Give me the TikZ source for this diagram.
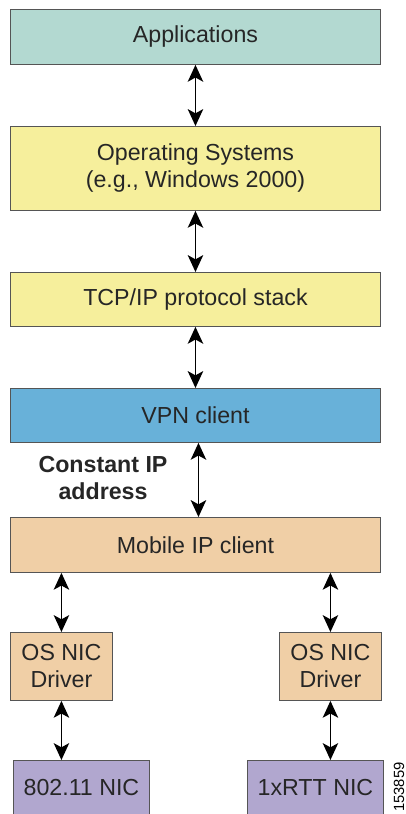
\documentclass[tikz,border=0pt]{standalone}
\usepackage{fontspec}
\setmainfont{Liberation Sans}
\usetikzlibrary{arrows.meta}
\definecolor{appcol}{HTML}{B3D9D1}
\definecolor{oscol}{HTML}{F6EF9C}
\definecolor{vpncol}{HTML}{68B1D9}
\definecolor{mipcol}{HTML}{F0CFA6}
\definecolor{niccol}{HTML}{B1A7CF}
\definecolor{edgecol}{HTML}{555555}
\tikzset{
  layer/.style={draw=edgecol, line width=0.6pt, anchor=north west, inner sep=0pt,
    align=center, text=black!85, font=\fontsize{16.5}{19.2}\selectfont},
  wide/.style={layer, minimum width=9.25cm},
  small/.style={layer, minimum width=2.55cm, minimum height=1.7cm},
  nic/.style={layer, minimum width=3.4cm, minimum height=1.35cm, fill=niccol},
  link/.style={{Stealth[length=12pt,width=11pt,inset=3pt]}-{Stealth[length=12pt,width=11pt,inset=3pt]}, line width=1pt}
}
\begin{document}
\begin{tikzpicture}[x=0.025cm,y=-0.025cm]
\useasboundingbox (0,0) rectangle (406,814);

% stack
\node[wide, minimum height=1.375cm, fill=appcol] (app) at (10,9) {Applications};
\node[wide, minimum height=2.1cm, fill=oscol] (os) at (10,126) {Operating Systems\\(e.g., Windows 2000)};
\node[wide, minimum height=1.35cm, fill=oscol] (tcp) at (10,272) {TCP/IP protocol stack};
\node[wide, minimum height=1.35cm, fill=vpncol] (vpn) at (10,388) {VPN client};
\node[wide, minimum height=1.375cm, fill=mipcol] (mip) at (10,517) {Mobile IP client};

% drivers and NICs
\node[small, fill=mipcol] (drvl) at (10,632) {OS NIC\\Driver};
\node[small, fill=mipcol] (drvr) at (279,632) {OS NIC\\Driver};
\node[nic] (nicl) at (13,760) {802.11 NIC};
\node[nic] (nicr) at (247,760) {1xRTT NIC};

\draw[link] (app.south) -- (os.north);
\draw[link] (os.south) -- (tcp.north);
\draw[link] (tcp.south) -- (vpn.north);
\draw[link] ([xshift=3*0.025cm]vpn.south) -- ([xshift=3*0.025cm]mip.north);
\draw[link] (mip.south -| drvl.north) -- (drvl.north);
\draw[link] (mip.south -| drvr.north) -- (drvr.north);
\draw[link] (drvl.south) -- (drvl.south |- nicl.north);
\draw[link] (drvr.south) -- (drvr.south |- nicr.north);

\node[align=center, font=\fontsize{16.5}{19.2}\selectfont\bfseries, text=black!85] (addr) at (103,478) {Constant IP\\address};
\node[rotate=90, font=\fontsize{10.5}{12}\selectfont, inner sep=0pt] (num) at (399,787) {153859};
\end{tikzpicture}
\end{document}
